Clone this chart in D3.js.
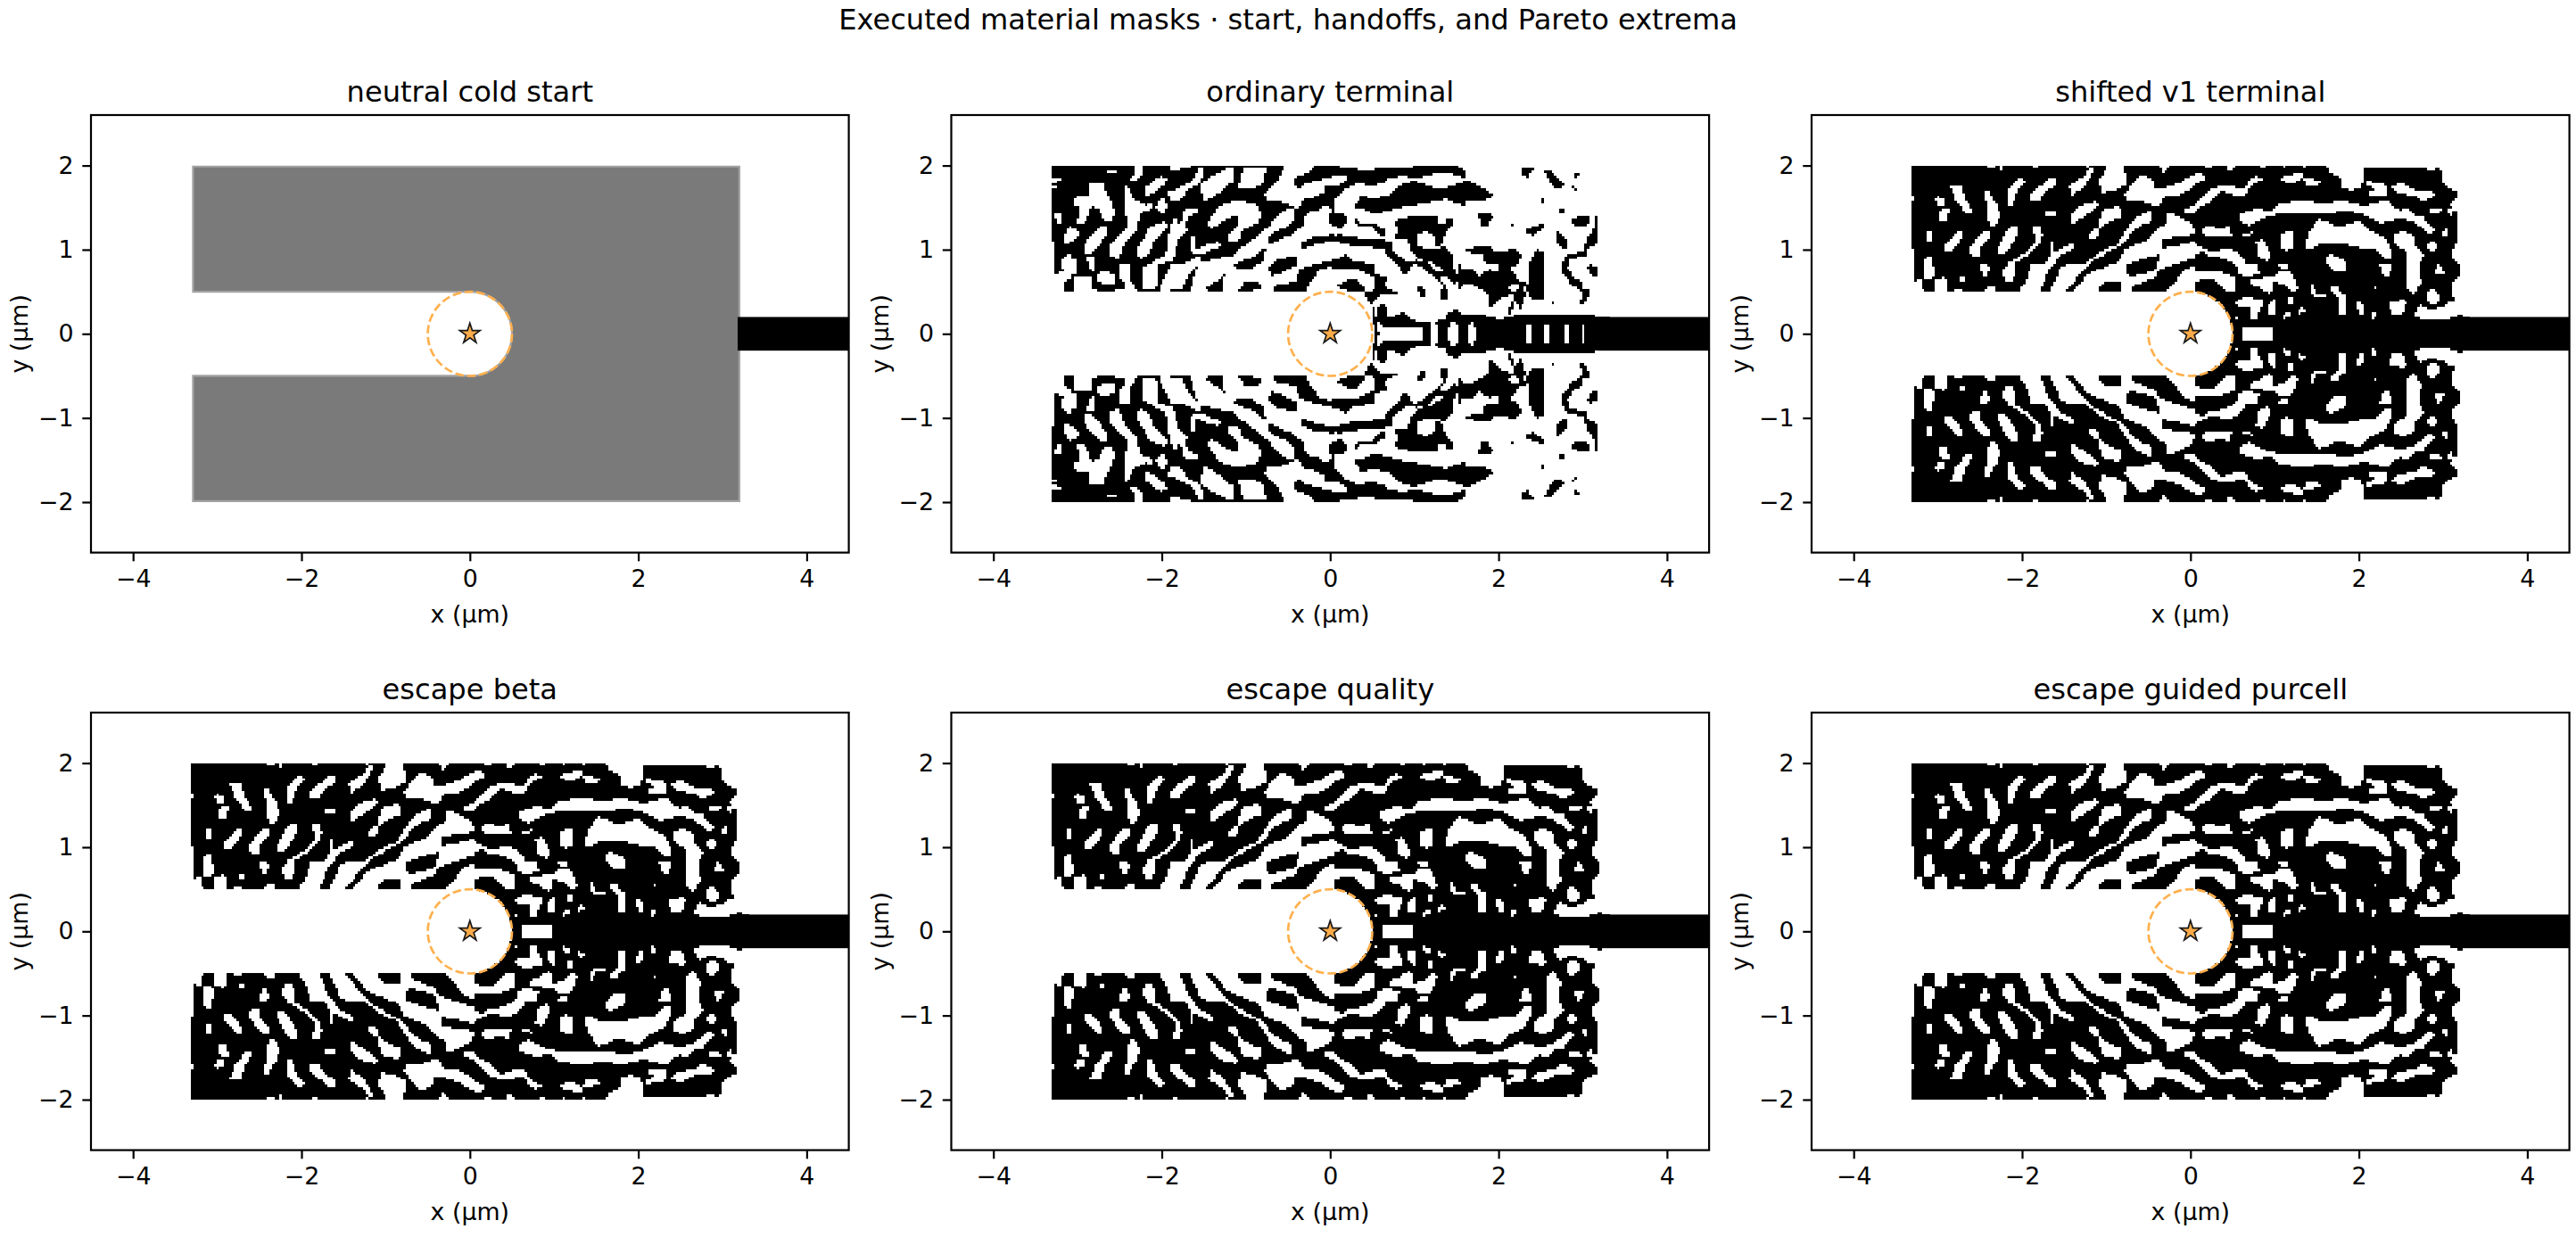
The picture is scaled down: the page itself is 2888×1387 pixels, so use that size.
<!DOCTYPE html>
<html><head><meta charset="utf-8">
<script src="https://cdn.jsdelivr.net/npm/d3@7/dist/d3.min.js"></script>
<style>html,body{margin:0;background:#fff}svg{display:block}text{font-family:"DejaVu Sans";fill:#000}</style>
</head><body><svg id="fig" width="2888" height="1387"></svg>
<script>
const figureTitle = "Executed material masks · start, handoffs, and Pareto extrema";
const panelTitles = ["neutral cold start","ordinary terminal","shifted v1 terminal","escape beta","escape quality","escape guided purcell"];
const xTicks = [-4,-2,0,2,4];
const yTicks = [-2,-1,0,1,2];
const xLimits = [-4.5,4.5];
const yLimits = [-2.6,2.6];
const designX = [-3.3,3.2];
const designY = [-2,2];
const slotHalfHeight = 0.5;
const cavityRadius = 0.5;
const guideHalfHeight = 0.2;
const cellSize = 0.03;

/* Mask outlines, upper half only (the masks mirror in y).
   Units are 1/283.2 µm; tile L starts at x = -3.347 µm, tile R at x = -0.064 µm, y = (585 - v)/283.2. */
const escapeBaseL = [[10,20,960,20,960,442,18,442,18,295,10,295]];
const escapeBaseR = [[0,20,470,20,490,45,520,55,525,90,560,102,592,95,602,60,605,25,800,22,820,38,858,25,870,85,915,105,915,125,885,150,918,178,918,270,895,310,895,330,920,350,920,395,895,415,905,470,885,515,915,520,960,530,960,600,0,600]];
const escapeWhiteL = [
[138,88,178,82,190,130,216,170,212,180,190,175,160,135],[88,130,105,122,122,135,118,152,100,152],[118,158,138,165,128,205,102,208,105,180],
[258,105,272,103,282,130,300,150,306,190,300,215,275,222,265,190,262,140],[332,100,370,60,398,75,370,95,358,120,352,155,338,155],
[410,115,470,65,498,62,495,80,445,125,435,142,415,140],[540,85,585,60,610,25,625,25,610,60,590,90,545,122],[640,70,668,22,725,22,735,85,680,105,650,110],
[725,115,775,55,820,60,830,95,860,95,960,60,960,90,900,120,860,125,840,158,790,140,735,135],[545,185,575,155,630,140,638,152,610,175,545,220],[462,170,498,168,498,188,465,190],
[650,170,710,155,718,190,660,215,640,240,630,270,610,268,605,250,635,228],[60,240,80,238,78,270,60,272],[118,290,150,255,185,232,178,265,150,305,118,308],
[208,295,240,245,275,238,278,258,245,290,238,325,212,325],[298,300,340,225,370,218,370,250,330,310,305,320],
[415,222,440,225,450,250,440,285,400,320,360,345,360,380,345,412,325,410,315,375,335,345,395,310,425,280,430,250,415,240],
[410,352,460,345,480,318,480,275,490,275,490,310,545,280,560,285,555,298,510,320,490,350,470,370,462,395,440,442,372,442,400,400],
[475,442,510,365,540,350,600,345,640,310,700,285,740,225,760,195,815,170,820,205,780,220,750,245,725,280,690,300,620,340,590,370,530,442],
[555,442,600,385,650,365,710,340,730,300,800,270,830,235,870,215,870,175,890,180,945,210,960,230,960,442],
[920,170,960,155,960,180,930,180],[848,18,880,18,870,35,850,42],[50,375,60,320,75,322,88,385,80,398,50,398],[240,355,265,345,272,370,260,398,240,370],
[165,402,180,392,195,402,180,412],[10,120,18,118,18,135,10,135],[85,442,92,400,120,395,130,400,130,442],[255,442,270,420,290,430,295,442],[18,410,40,400,50,442,18,442],
[262,18,290,18,290,22,262,22],[305,18,320,18,314,38,308,32],[420,18,440,18,435,28,425,28],[595,18,610,18,605,28],[10,60,18,60,18,66,10,66],[160,432,180,432,180,442,160,442]];
const escapeBlackL = [
[732,355,780,335,845,318,830,370,790,385,740,390,732,375],[640,430,665,408,715,408,718,442,635,442],[752,442,755,425,830,395,840,370,960,330,960,355,920,380,870,442],[850,270,890,258,960,250,960,275,850,300]];
const escapeWhiteR = [
[0,62,45,45,72,55,60,70,0,95],[15,165,90,95,130,85,200,95,215,65,240,55,265,65,240,78,220,85,205,115,180,122,130,105,110,110,90,135,30,172,0,180],
[178,185,220,170,245,160,280,175,320,145,400,135,480,150,520,135,600,155,680,135,720,170,745,160,780,190,800,190,840,240,825,250,790,225,770,205,720,195,660,215,600,185,540,170,480,180,400,175,330,180,270,190,215,220,195,215],
[58,240,75,220,110,232,150,225,158,260,120,255,65,255],[192,255,230,238,222,255,198,258],[0,210,15,205,20,235,5,250,0,250],[235,275,262,268,275,295,292,315,285,335,270,340,245,320,248,295],
[322,248,360,240,362,295,345,305,315,295,322,275],[402,280,420,240,445,200,475,205,515,225,585,205,625,240,670,260,695,310,695,330,670,330,640,300,600,300,530,280,460,280,420,298,405,295],
[470,325,495,315,530,335,545,355,545,375,505,375,475,350],[655,348,690,345,698,365,680,395,662,378],[570,352,580,352,580,362,572,360],[590,380,602,380,602,386,590,386],
[705,250,730,238,775,260,772,290,805,315,785,360,795,410,770,455,745,430,745,370,745,310,705,285],[815,285,830,268,850,290,835,308,818,305],[862,240,885,232,885,258,865,258],
[835,380,855,348,872,385,840,388],[815,450,830,435,860,460,855,480,830,492,812,470],[610,70,660,80,680,85,680,120,635,122,610,115,640,95,610,85],[698,85,730,78,780,105,835,105,840,120,800,138,770,120,700,105],
[820,165,860,160,862,178,825,178],[875,170,905,160,900,185,885,185],[320,60,390,42,400,60,462,72,440,88,410,85,395,62,360,80,322,68],
[0,290,30,275,60,300,95,310,150,295,190,320,205,350,245,355,250,385,210,390,180,385,170,350,130,330,85,325,60,310,0,320],
[0,370,20,358,40,380,110,375,170,395,170,440,130,440,100,402,60,400,0,430],[215,398,240,398,290,395,320,378,355,378,375,420,382,432,365,448,340,420,300,410,295,440,285,452,250,430,220,420],
[310,350,340,345,348,362,325,365],[165,478,210,458,265,475,245,520,250,540,220,542,215,490,170,490],[280,490,300,465,305,520,285,520,275,500],[348,490,352,455,365,460,360,490],
[375,510,395,490,405,505,385,522],[328,520,350,512,355,525,332,535],[420,415,430,425,445,455,475,450,475,462,440,465,425,450],[485,425,505,423,530,450,540,450,540,520,520,520,518,470,495,445],
[575,480,595,475,605,520,585,522],[625,515,640,508,645,525,635,535,625,530],[685,470,705,480,730,470,745,480,730,520,705,525,690,505],[632,425,645,423,645,433,632,433],[468,500,478,500,478,506,468,506],
[190,565,295,565,295,600,190,600],[165,525,175,525,178,540,165,540],
[770,525,790,480,800,495,835,505,870,490,895,470,905,490,885,515,915,515,915,530,805,540],
[60,18,90,18,85,24,65,24],[140,18,165,18,155,38,148,36],[250,18,270,18,262,24],[325,18,345,18,335,24],[390,18,410,18,400,28]];

const ordinaryBaseL = [[10,20,295,20,960,20,960,442,18,442,18,270,10,270]];
const ordinaryWhiteL = [
[140,80,185,75,195,110,220,160,218,210,190,208,170,165,145,155,125,210,98,215,105,160,88,150,88,125,135,125],[195,35,230,35,230,45,195,42],[12,60,45,62,45,72,12,75],[10,90,30,90,30,96,10,96],[22,180,45,185,45,212,25,215],
[68,222,85,232,110,240,85,275,55,280,55,255],[120,285,175,225,195,222,195,250,155,310,120,315],[255,85,275,100,285,130,325,152,355,145,352,165,318,172,305,190,300,235,255,285,238,335,208,320,205,285,262,230,270,205,252,165,258,120],
[295,310,340,225,395,208,400,225,360,265,335,325,305,330],[322,95,375,55,400,60,395,85,370,95,340,120,320,118],[400,110,480,75,510,25,525,25,510,80,470,100,440,140,415,140],[365,140,385,125,398,150,395,178,375,180,362,160],
[410,225,425,190,440,215,460,200,445,180,460,165,505,160,505,178,470,192,460,215,470,240,440,265,425,305,420,340,370,352,365,430,315,430,315,362,395,320],
[420,345,450,350,510,320,510,345,478,375,450,432,380,442,372,430,405,355],[478,255,492,255,492,305,545,280,575,275,580,290,520,315,500,315,480,310],
[535,220,570,155,640,135,700,150,720,180,705,210,655,235,640,270,605,272,605,250,640,215,640,185,600,200,550,230],
[510,345,620,320,740,225,790,170,825,160,825,205,800,225,860,190,870,175,905,170,935,140,960,185,960,442,478,442,495,375],
[640,90,655,25,730,25,725,80,680,100],[725,115,775,65,830,45,830,90,860,80,960,55,960,90,900,125,860,130,840,165,780,140,735,135],[795,18,900,18,860,50,830,60,800,60,770,75],[510,80,545,60,610,25,625,25,625,70,575,110,530,140,520,130],
[295,18,320,25,310,60,275,75,275,65,295,50],[400,25,490,18,420,40],[45,330,70,315,100,345,95,385,60,390,45,360],[125,322,158,322,158,378,145,370],[160,388,175,375,220,382,220,420,160,410],[238,350,270,345,272,400,295,430,250,410,240,390],
[18,382,50,378,80,395,55,410,50,442,18,442],[85,442,90,395,145,392,145,430,165,442],[195,442,250,435,270,410,295,430,300,442]];
const ordinaryBlackL = [
[825,165,860,170,865,215,830,240,800,230,825,205],[742,262,770,235,828,232,830,245,790,262,745,282],[620,355,700,320,735,290,720,340,690,365,640,370],[742,360,760,340,840,320,835,355,790,375,750,392],
[755,425,830,410,845,370,900,350,960,335,960,360,920,365,880,410,865,442,755,442],[640,442,660,412,700,408,720,420,718,435,660,442],[530,430,565,410,595,380,585,442,535,442],[850,275,890,258,960,250,960,270,850,300],
[830,60,860,55,900,30,960,18,960,45,900,50,860,75,845,95,830,85],[740,85,775,20,795,22,770,55,745,95],[625,25,660,25,640,65,625,65],[860,170,905,130,960,100,960,145,930,140,905,170,870,175],[940,185,960,175,960,222,945,210],[365,370,400,350,410,355,385,410,365,425]];
const ordinaryBlackR = [
[0,20,105,25,110,40,170,32,250,30,330,18,440,18,470,35,475,62,400,40,300,65,270,55,220,60,195,80,150,85,110,78,75,95,25,90,0,120,0,85,40,85,75,70,75,50,0,50],[0,100,45,90,75,95,20,140,5,158,0,158],
[100,150,125,118,160,130,220,118,240,90,300,70,390,100,480,70,575,118,540,135,480,135,470,155,405,132,310,150,230,165,170,185,130,165,100,160],[0,265,45,250,110,260,180,265,225,275,230,300,195,300,120,290,60,285,25,270,0,275],[15,190,45,175,75,190,75,210,50,230,25,220],[100,195,125,215,170,215,205,240,195,260,170,240,160,225,105,220],
[232,205,290,190,380,190,375,210,400,215,415,195,435,195,430,220,405,245,395,285,370,290,370,255,340,240,315,250,310,280,330,300,390,295,405,295,435,320,430,355,440,380,400,375,365,345,330,340,290,310,280,268,230,265,250,240],
[195,300,225,290,235,310,280,345,305,335,345,345,385,380,440,378,440,420,415,395,385,395,410,435,420,460,395,475,390,455,395,420,370,395,330,365,300,350,270,390,240,350],
[0,350,70,318,90,340,165,350,170,385,215,395,200,425,260,455,190,455,155,490,130,445,160,445,170,410,165,395,110,370,40,365,0,355],[40,420,80,400,105,402,130,425,130,445,70,440,40,425],
[660,25,720,25,690,40,688,58,665,55],[735,35,755,35,805,85,790,100,770,95],[832,50,855,40,858,55,840,60],[825,85,855,95,855,100,835,100],[725,125,740,125,740,150,725,150],[790,165,808,160,808,178,790,178],[515,182,550,175,575,195,550,205,545,222,530,222],[625,212,638,212,638,220,625,220],[832,200,850,190,890,190,892,210,870,222,835,220],[678,235,735,212,738,225,700,255,685,250],[775,250,785,242,812,265,812,295,800,300,780,280],[312,425,330,430,340,450,330,470,315,440],
[905,190,915,190,918,280,888,295,880,300,885,320,860,325,825,335,815,365,835,390,860,410,870,435,890,440,885,470,870,490,852,488,870,445,830,420,800,380,795,360,810,320,875,305,880,265,905,230],[885,360,890,350,915,360,915,395,895,390],
[470,298,550,288,580,310,640,300,660,320,650,355,620,355,650,405,690,415,690,340,715,300,738,310,738,465,700,470,680,440,660,505,640,475,620,530,615,520,640,450,600,460,555,500,545,450,520,430,480,415,470,420,450,440,440,395,455,345,460,370,490,365,520,390,550,370,585,375,590,345,560,350,540,345,530,315,470,310],
[410,515,445,500,465,520,520,520,590,535,640,525,665,515,700,525,760,520,760,475,768,475,765,520,885,525,900,515,915,530,960,530,960,600,330,600,330,545,405,540],
[155,490,165,490,185,600,170,600],[180,490,205,488,220,545,180,550],[190,550,265,510,285,535,330,550,330,558,190,558]];
const ordinaryWhiteR = [
[625,418,650,415,655,435,635,445,620,430],[665,428,680,425,680,442,665,442],
[352,570,357,548,377,548,382,570,382,600,352,600],[418,570,423,548,443,548,448,570,448,600,418,600],[482,570,486,550,502,550,506,570,506,600,482,600],
[680,570,683,550,693,550,696,570,696,600,680,600],[738,570,741,550,751,550,754,570,754,600,738,600],[805,570,808,550,822,550,825,570,825,600,805,600],[861,570,864,552,874,552,877,570,877,600,861,600]];

const pw = 849.6, ph = 490.6;
const lefts = [102, 1066.5, 2031];
const tops = [129, 799];
const orange = "#ffb04e";
const gridCols = Math.round((designX[1]-designX[0]+0.2)/cellSize);
const gridRows = Math.ceil(designY[1]/cellSize);
const readL = v => (v-948)/283.2, readR = v => (v-18)/283.2, readY = v => (585-v)/283.2;

function rasterize(layers){
  const c = document.createElement("canvas"); c.width=gridCols; c.height=gridRows;
  const g = c.getContext("2d",{willReadFrequently:true});
  const cx = u => (u-(designX[0]-0.04))/cellSize, cy = u => (designY[1]-u)/cellSize;
  g.fillStyle="#fff"; g.fillRect(0,0,gridCols,gridRows);
  layers.forEach(([polys,color,read])=>{
    g.fillStyle=color;
    polys.forEach(p=>{
      g.beginPath();
      for(let i=0;i<p.length;i+=2){const a=cx(read(p[i])),b=cy(readY(p[i+1])); i?g.lineTo(a,b):g.moveTo(a,b);}
      g.closePath(); g.fill();
    });
  });
  g.fillStyle="#fff";
  g.fillRect(0,cy(slotHalfHeight),cx(0),gridRows);
  g.beginPath(); g.arc(cx(0),cy(0),cavityRadius/cellSize,0,7); g.fill();
  const d=g.getImageData(0,0,gridCols,gridRows).data, runs=[];
  for(let r=0;r<gridRows;r++){let s=-1;for(let k=0;k<=gridCols;k++){const on=k<gridCols&&d[(r*gridCols+k)*4]<128;
    if(on&&s<0)s=k; if(!on&&s>=0){runs.push({x0:designX[0]-0.04+s*cellSize,x1:designX[0]-0.04+k*cellSize,y0:designY[1]-r*cellSize,y1:Math.max(0,designY[1]-(r+1)*cellSize)});s=-1;}}}
  return runs;
}
const ordinaryRuns = rasterize([[ordinaryBaseL,"#000",readL],[ordinaryWhiteL,"#fff",readL],[ordinaryBlackL,"#000",readL],[ordinaryBlackR,"#000",readR],[ordinaryWhiteR,"#fff",readR]]);
const escapeRuns = rasterize([[escapeBaseL,"#000",readL],[escapeBaseR,"#000",readR],[escapeWhiteL,"#fff",readL],[escapeBlackL,"#000",readL],[escapeWhiteR,"#fff",readR]]);

const svg = d3.select("#fig");
svg.append("text").attr("x",1444).attr("y",33).attr("text-anchor","middle").style("font-size","32.1px").text(figureTitle);

panelTitles.forEach((t,i)=>{
  const col=i%3,row=Math.floor(i/3),L=lefts[col],T=tops[row];
  const x=d3.scaleLinear().domain(xLimits).range([L,L+pw]);
  const y=d3.scaleLinear().domain(yLimits).range([T+ph,T]);
  const G=svg.append("g");
  if(i===0){
    const e=0.012, p=d3.path();
    p.moveTo(x(designX[0]+e),y(designY[1]-e));p.lineTo(x(designX[1]),y(designY[1]-e));p.lineTo(x(designX[1]),y(designY[0]+e));p.lineTo(x(designX[0]+e),y(designY[0]+e));
    p.lineTo(x(designX[0]+e),y(-slotHalfHeight));p.lineTo(x(0),y(-slotHalfHeight));
    p.arc(x(0),y(0),x(cavityRadius)-x(0),Math.PI/2,-Math.PI/2,true);
    p.lineTo(x(designX[0]+e),y(slotHalfHeight));p.closePath();
    G.append("path").attr("d",p.toString()).attr("fill","#7a7a7a").attr("stroke","#a3a3a3").attr("stroke-width",2.2).attr("stroke-linejoin","miter");
  } else {
    const runs=i===1?ordinaryRuns:escapeRuns, p=d3.path();
    runs.forEach(r=>{[[r.y0,r.y1],[-r.y1,-r.y0]].forEach(([a,b])=>{p.rect(x(r.x0),y(a),x(r.x1)-x(r.x0),y(b)-y(a));});});
    G.append("path").attr("d",p.toString()).attr("fill","#000").attr("shape-rendering","crispEdges");
  }
  G.append("rect").attr("x",x(designX[1]-0.02)).attr("width",x(xLimits[1])-x(designX[1]-0.02)).attr("y",y(guideHalfHeight)).attr("height",y(-guideHalfHeight)-y(guideHalfHeight)).attr("fill","#000");
  G.append("circle").attr("cx",x(0)).attr("cy",y(0)).attr("r",x(cavityRadius)-x(0)).attr("fill","none").attr("stroke",orange).attr("stroke-width",2.7).attr("stroke-dasharray","9.5 4");
  G.append("path").attr("d",d3.symbol(d3.symbolStar,160)()).attr("transform",`translate(${x(0)},${y(0)})`).attr("fill","#fcab49").attr("stroke","#1a1a1a").attr("stroke-width",1.7);
  G.append("rect").attr("x",L).attr("y",T).attr("width",pw).attr("height",ph).attr("fill","none").attr("stroke","#000").attr("stroke-width",2.2);
  const ax=svg.append("g").attr("transform",`translate(0,${T+ph})`).call(d3.axisBottom(x).tickValues(xTicks).tickSize(9.7).tickPadding(9.7));
  const ay=svg.append("g").attr("transform",`translate(${L},0)`).call(d3.axisLeft(y).tickValues(yTicks).tickFormat(d3.format("d")).tickSize(9.7).tickPadding(9.7));
  [ax,ay].forEach(a=>{a.select(".domain").remove();a.selectAll("line").attr("stroke","#000").attr("stroke-width",2.2);a.selectAll("text").style("font-size","26.8px").attr("font-family","DejaVu Sans");});
  svg.append("text").attr("x",L+pw/2).attr("y",T-15).attr("text-anchor","middle").style("font-size","32.1px").text(t);
  svg.append("text").attr("x",L+pw/2).attr("y",T+ph+78).attr("text-anchor","middle").style("font-size","26.8px").text("x (µm)");
  svg.append("text").attr("transform",`translate(${L-71},${T+ph/2}) rotate(-90)`).attr("text-anchor","middle").style("font-size","26.8px").text("y (µm)");
});
</script></body></html>
